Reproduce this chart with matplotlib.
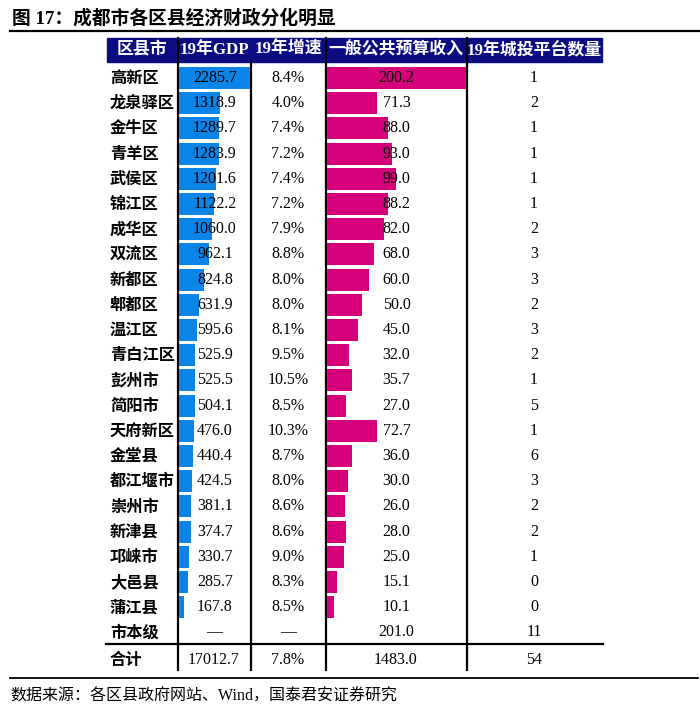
import matplotlib
matplotlib.use('Agg')
from matplotlib import pyplot as plt
from matplotlib.patches import Rectangle

plt.rcParams['font.family'] = ['Liberation Serif', 'Noto Sans CJK SC']

# table data (亿元)
districts = ['高新区', '龙泉驿区', '金牛区', '青羊区', '武侯区', '锦江区', '成华区',
             '双流区', '新都区', '郫都区', '温江区', '青白江区', '彭州市', '简阳市',
             '天府新区', '金堂县', '都江堰市', '崇州市', '新津县', '邛崃市', '大邑县', '蒲江县']
gdp = [2285.7, 1318.9, 1289.7, 1283.9, 1201.6, 1122.2, 1060.0, 962.1, 824.8, 631.9, 595.6,
       525.9, 525.5, 504.1, 476.0, 440.4, 424.5, 381.1, 374.7, 330.7, 285.7, 167.8]
growth = [8.4, 4.0, 7.4, 7.2, 7.4, 7.2, 7.9, 8.8, 8.0, 8.0, 8.1,
          9.5, 10.5, 8.5, 10.3, 8.7, 8.0, 8.6, 8.6, 9.0, 8.3, 8.5]
revenue = [200.2, 71.3, 88.0, 93.0, 99.0, 88.2, 82.0, 68.0, 60.0, 50.0, 45.0,
           32.0, 35.7, 27.0, 72.7, 36.0, 30.0, 26.0, 28.0, 25.0, 15.1, 10.1]
platforms = [1, 2, 1, 1, 1, 1, 2, 3, 3, 2, 3, 2, 1, 5, 1, 6, 3, 2, 2, 1, 0, 0]
headers = ['区县市', '19年GDP', '19年增速', '一般公共预算收入', '19年城投平台数量']
city_row = ['市本级', '—', '—', '201.0', '11']
total_row = ['合计', '17012.7', '7.8%', '1483.0', '54']

W, H = 700, 712
fig = plt.figure(figsize=(W / 100, H / 100), dpi=100)

def px_axes(x0, x1):
    a = fig.add_axes([x0 / W, 0, (x1 - x0) / W, 1])
    a.set_ylim(H, 0)
    a.axis('off')
    return a

ax = px_axes(0, W)
ax.set_xlim(0, W)

navy = '#0C0C82'
blue = '#0A84E6'
pink = '#D5007A'

col_x = [142, 214, 288, 396, 534]
head_y = 50
pitch = 25.2
row_y = [78 + i * pitch for i in range(len(districts))]
city_y = 78 + len(districts) * pitch
total_y = 660

# title
ax.text(12, 18, '图 17：成都市各区县经济财政分化明显', fontsize=13.5, fontweight='bold',
        ha='left', va='center')
ax.plot([10, 700], [30.5, 30.5], color='black', lw=1.6)

# header
ax.add_patch(Rectangle((107, 38), 602 - 107, 24, color=navy, zorder=1))
for x, h in zip(col_x, headers):
    ax.text(x, head_y, h, fontsize=12.2, fontweight='bold', color='white',
            ha='center', va='center', zorder=3)

# bars
ax_gdp = px_axes(179, 251)
ax_gdp.set_xlim(0, 2330)
ax_gdp.barh(row_y, gdp, height=22, color=blue, zorder=1)
ax_rev = px_axes(327, 466)
ax_rev.set_xlim(0, 200.2)
ax_rev.barh(row_y, revenue, height=22, color=pink, zorder=1)

num_fs = 11.5
lab_fs = 11.7
for i, y in enumerate(row_y):
    ax.text(110, y, districts[i], fontsize=lab_fs, fontweight='bold', ha='left', va='center',
            family=['Noto Sans CJK SC'])
    ax_gdp.text(0.5, y, f'{gdp[i]:.1f}', transform=ax_gdp.get_yaxis_transform(),
                fontsize=num_fs, ha='center', va='center', zorder=3)
    ax.text(col_x[2], y, f'{growth[i]:.1f}%', fontsize=num_fs, ha='center', va='center')
    ax_rev.text(0.5, y, f'{revenue[i]:.1f}', transform=ax_rev.get_yaxis_transform(),
                fontsize=num_fs, ha='center', va='center', zorder=3)
    ax.text(col_x[4], y, str(platforms[i]), fontsize=num_fs, ha='center', va='center')

for row, y in [(city_row, city_y), (total_row, total_y)]:
    ax.text(110, y, row[0], fontsize=lab_fs, fontweight='bold', ha='left', va='center',
            family=['Noto Sans CJK SC'])
    for x, s in zip(col_x[1:], row[1:]):
        ax.text(x, y, s, fontsize=num_fs, ha='center', va='center')

# grid lines
lw = 1.6
ax.plot([178, 178], [38, 670], color='black', lw=lw, zorder=4)
ax.plot([251, 251], [62, 670], color='black', lw=lw, zorder=4)
ax.plot([325.5, 325.5], [38, 670], color='black', lw=lw, zorder=4)
ax.plot([466.5, 466.5], [38, 670], color='black', lw=lw, zorder=4)
ax.plot([106, 603], [643.5, 643.5], color='black', lw=lw, zorder=4)
ax.plot([10, 698], [677.5, 677.5], color='black', lw=1.3)

ax.text(10, 697, '数据来源：各区县政府网站、Wind，国泰君安证券研究', fontsize=11.5,
        ha='left', va='center')

fig.savefig('out.png', dpi=100)
